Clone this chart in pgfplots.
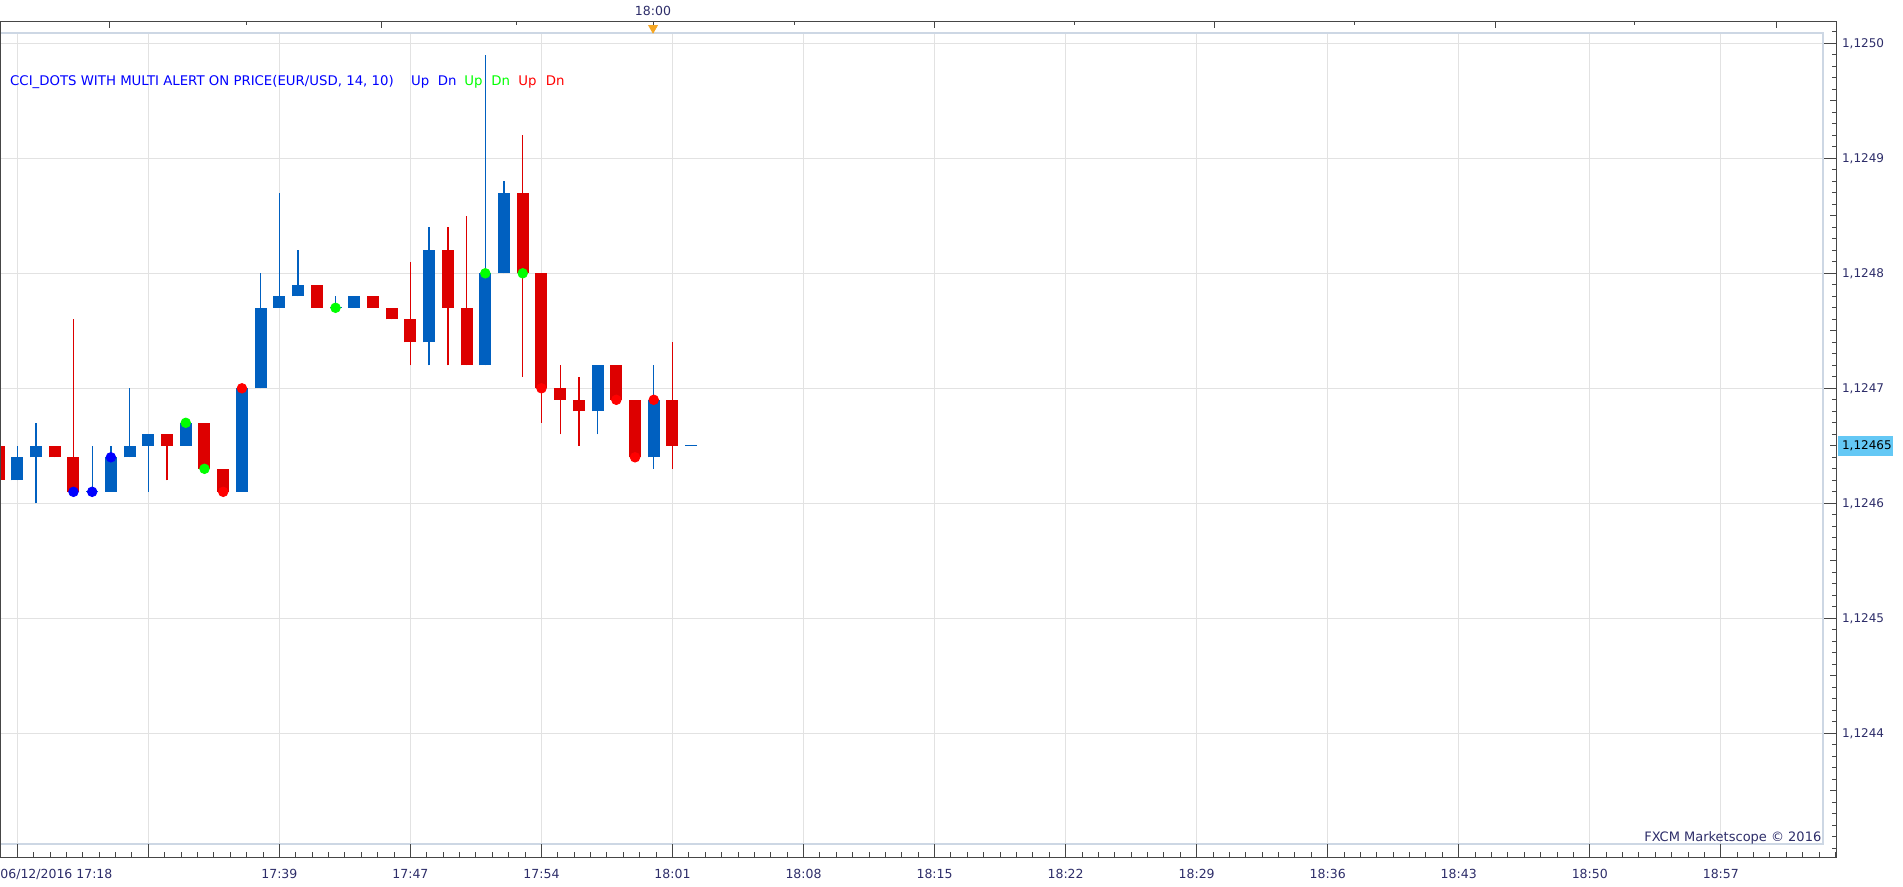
\documentclass[border=0pt]{standalone}
\usepackage{fontspec}
\setmainfont{DejaVu Sans}
\usepackage{pgfplots}
\usepackage{pgfplotstable}
\pgfplotsset{compat=1.18}
\definecolor{cblue}{RGB}{0,96,192}
\definecolor{cred}{RGB}{221,0,0}
\definecolor{dblue}{RGB}{0,0,255}
\definecolor{dgreen}{RGB}{0,255,0}
\definecolor{dred}{RGB}{255,0,0}
\definecolor{gridc}{RGB}{226,226,226}
\definecolor{framec}{RGB}{205,215,228}
\definecolor{axc}{RGB}{70,70,70}
\definecolor{labc}{RGB}{45,45,105}
\definecolor{pricec}{RGB}{100,200,245}
\definecolor{markc}{RGB}{245,166,35}
% prices in units of 0.00001 above 1.12400
\pgfplotstableread{
i o h l c
0 62 65 62 64
1 64 67 60 65
4 61 65 61 61
5 61 65 61 64
6 64 70 64 65
7 65 66 61 66
9 65 67 65 67
12 61 70 61 70
13 70 80 70 77
14 77 87 77 78
15 78 82 78 79
17 77 78 77 77
18 77 78 77 78
22 74 84 72 82
25 72 99 72 80
26 80 88 80 87
31 68 72 66 72
34 64 72 63 69
36 65 65 65 65
}\bull
\pgfplotstableread{
i o h l c
-1 65 65 62 62
2 65 65 64 64
3 64 76 61 61
8 66 66 62 65
10 67 67 63 63
11 63 63 61 61
16 79 79 77 77
19 78 78 77 77
20 77 77 76 76
21 76 81 72 74
23 82 84 72 77
24 77 85 72 72
27 87 92 71 80
28 80 80 67 70
29 70 72 66 69
30 69 71 65 68
32 72 72 69 69
33 69 69 64 64
35 69 74 63 65
}\bear
\pgfplotstableread{
i o
4 61
17 77
36 65
}\doji
\begin{document}
\begin{tikzpicture}
% inner plot area
\begin{axis}[at={(0pt,21.35pt)}, anchor=south west, scale only axis,
  width=911.5pt, height=405.5pt,
  xmin=-0.924, xmax=96.46, ymin=30.35, ymax=100.87,
  axis line style={draw=framec, line width=1pt},
  xtick={0,7,...,91}, ytick={40,50,...,100},
  xticklabels={}, yticklabels={}, major tick length=0pt,
  grid=major, major grid style={draw=gridc, line width=0.5pt}]
% wicks
\addplot[draw=none, mark=none, forget plot, error bars/.cd, y dir=plus, y explicit, error mark=none,
  error bar style={draw=cblue, line width=0.65pt}]
  table[x=i, y=l, y error plus expr={\thisrow{h}-\thisrow{l}}] {\bull};
\addplot[draw=none, mark=none, forget plot, error bars/.cd, y dir=plus, y explicit, error mark=none,
  error bar style={draw=cred, line width=0.65pt}]
  table[x=i, y=l, y error plus expr={\thisrow{h}-\thisrow{l}}] {\bear};
% bodies
\addplot[draw=none, mark=none, forget plot, error bars/.cd, y dir=plus, y explicit, error mark=none,
  error bar style={draw=cblue, line width=6pt}]
  table[x=i, y=o, y error plus expr={\thisrow{c}-\thisrow{o}}] {\bull};
\addplot[draw=none, mark=none, forget plot, error bars/.cd, y dir=plus, y explicit, error mark=none,
  error bar style={draw=cred, line width=6pt}]
  table[x=i, y=c, y error plus expr={\thisrow{o}-\thisrow{c}}] {\bear};
\addplot[only marks, mark=-, mark size=3pt, mark options={draw=cblue, line width=0.6pt}]
  table[x=i, y=o] {\doji};
% CCI dots
\addplot[only marks, mark=*, mark size=2.4pt, mark options={draw=dblue, fill=dblue}]
  coordinates {(3,61) (4,61) (5,64)};
\addplot[only marks, mark=*, mark size=2.4pt, mark options={draw=dgreen, fill=dgreen}]
  coordinates {(9,67) (10,63) (17,77) (25,80) (27,80)};
\addplot[only marks, mark=*, mark size=2.4pt, mark options={draw=dred, fill=dred}]
  coordinates {(11,61) (12,70) (28,70) (32,69) (33,64) (34,69)};
\end{axis}
% outer axis with ticks and labels
\begin{axis}[at={(0pt,14.85pt)}, anchor=south west, scale only axis,
  width=918.35pt, height=417.8pt,
  xmin=-0.924, xmax=97.19, ymin=29.22, ymax=101.88,
  axis line style={draw=axc, line width=0.5pt},
  tick style={draw=axc, line width=0.5pt},
  tick align=inside, xtick pos=bottom, ytick pos=right, yticklabel pos=right,
  major tick length=6.5pt, minor tick length=2.5pt,
  xtick={0,7,...,91},
  xticklabels={,,17:39,17:47,17:54,18:01,18:08,18:15,18:22,18:29,18:36,18:43,18:50,18:57},
  minor xtick={-0.875,0,...,97},
  ytick={40,50,...,100},
  yticklabels={{1,1244},{1,1245},{1,1246},{1,1247},{1,1248},{1,1249},{1,1250}},
  minor ytick={30,31,...,101},
  extra y ticks={35,45,55,65,75,85,95}, extra y tick labels={},
  extra y tick style={major tick length=3.5pt},
  xticklabel style={font=\fontsize{6.25}{7.5}\selectfont, text=labc, anchor=north, inner sep=0pt, yshift=-6pt},
  yticklabel style={font=\fontsize{6}{7}\selectfont, text=labc, anchor=west, inner sep=0pt, xshift=2.5pt}]
\end{axis}
% top time ticks
\begin{axis}[at={(0pt,14.85pt)}, anchor=south west, scale only axis,
  width=918.35pt, height=417.8pt,
  xmin=-0.924, xmax=97.19, ymin=29.22, ymax=101.88,
  axis x line*=top, axis y line=none,
  x axis line style={draw=axc, line width=0.5pt, -},
  tick style={draw=axc, line width=0.5pt}, tick align=inside,
  xtick={4.95,19.48,33.96,48.97,63.93,78.94,93.95},
  minor xtick={12.22,26.69,41.49,56.45,71.41,86.41},
  xticklabels={}, major tick length=3pt, minor tick length=1.5pt, clip=false]
\addplot[only marks, mark=triangle*, mark size=2.5pt, mark options={rotate=180, draw=markc, fill=markc}]
  coordinates {(33.96,101.33)};
\end{axis}
% texts
\node[anchor=base west, inner sep=0pt, font=\fontsize{6.65}{8}\selectfont, text=dblue] at (4.9pt,400.85pt) {CCI\_DOTS WITH MULTI ALERT ON PRICE(EUR/USD, 14, 10)};
\node[anchor=base west, inner sep=0pt, font=\fontsize{6.65}{8}\selectfont, text=dblue] at (205.35pt,400.85pt) {Up};
\node[anchor=base west, inner sep=0pt, font=\fontsize{6.65}{8}\selectfont, text=dblue] at (218.75pt,400.85pt) {Dn};
\node[anchor=base west, inner sep=0pt, font=\fontsize{6.65}{8}\selectfont, text=dgreen] at (232pt,400.85pt) {Up};
\node[anchor=base west, inner sep=0pt, font=\fontsize{6.65}{8}\selectfont, text=dgreen] at (245.5pt,400.85pt) {Dn};
\node[anchor=base west, inner sep=0pt, font=\fontsize{6.65}{8}\selectfont, text=dred] at (259pt,400.85pt) {Up};
\node[anchor=base west, inner sep=0pt, font=\fontsize{6.65}{8}\selectfont, text=dred] at (272.75pt,400.85pt) {Dn};
\node[anchor=center, inner sep=0pt, font=\fontsize{6.25}{7.5}\selectfont, text=labc] at (326.5pt,438pt) {18:00};
\node[anchor=north west, inner sep=0pt, font=\fontsize{6.25}{7.5}\selectfont, text=labc] at (0pt,8.85pt) {06/12/2016 17:18};
\node[anchor=base east, inner sep=0pt, font=\fontsize{6.5}{7.5}\selectfont, text=labc] at (910.85pt,22.65pt) {FXCM Marketscope © 2016};
\fill[pricec] (919pt,215.5pt) rectangle (946.5pt,225.5pt);
\node[anchor=west, inner sep=0pt, font=\fontsize{6}{7}\selectfont, text=black] at (920.85pt,220.5pt) {1,12465};
\pgfresetboundingbox
\useasboundingbox (0pt,0pt) rectangle (951.5pt,443.5pt);
\end{tikzpicture}
\end{document}
